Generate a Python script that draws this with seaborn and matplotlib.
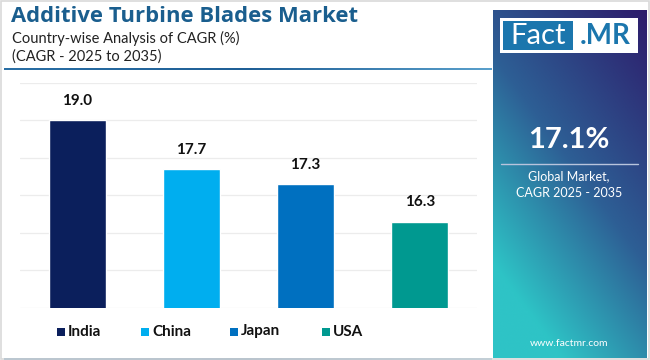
import numpy as np
import pandas as pd
import matplotlib
matplotlib.use("Agg")
import matplotlib.pyplot as plt
import seaborn as sns
from matplotlib.patches import Rectangle
from matplotlib.colors import LinearSegmentedColormap

countries = ["India", "China", "Japan", "USA"]
cagr = [19.0, 17.7, 17.3, 16.3]
bar_colors = ["#0b1f5c", "#00aeef", "#0070c0", "#009990"]
title = "Additive Turbine Blades Market"
subtitle1 = "Country-wise Analysis of CAGR (%)"
subtitle2 = "(CAGR - 2025 to 2035)"
global_value = "17.1%"
global_label = "Global Market,\nCAGR 2025 - 2035"

sns.set_theme(style="white")
plt.rcParams['font.family'] = ['Lato', 'DejaVu Sans']

W, H = 650, 360
fig = plt.figure(figsize=(6.5, 3.6), dpi=100)
fig.patch.set_facecolor("white")

def fx(px):
    return px / W

def fy(py):
    return 1 - py / H

# border
fig.patches.append(Rectangle((0.002, 0.003), 0.996, 0.994, transform=fig.transFigure,
                             fill=False, edgecolor="#d9d9d9", linewidth=1.2))

# header
fig.text(fx(11), fy(17), title, fontsize=15.8, fontweight="bold", color="#1a5e8e",
         va="center", ha="left", family=["Open Sans", "DejaVu Sans"])
fig.text(fx(12), fy(38), subtitle1, fontsize=10.5, color="#222222", va="center", ha="left")
fig.text(fx(12), fy(57), subtitle2, fontsize=10.5, color="#222222", va="center", ha="left")
# header line with gradient
line_ax = fig.add_axes([fx(4), fy(70), fx(488), 2.0 / H])
grad = np.linspace(0, 1, 256)[None, :]
lcmap = LinearSegmentedColormap.from_list("l", ["#2a6fa5", "#1f5f96", "#5aa0cc"])
line_ax.imshow(grad, aspect="auto", cmap=lcmap, extent=[0, 1, 0, 1])
line_ax.axis("off")
bline_ax = fig.add_axes([fx(4), 0.0, fx(488), 2.0 / H])
bline_ax.imshow(grad, aspect="auto", cmap=lcmap, extent=[0, 1, 0, 1])
bline_ax.axis("off")

# main bar chart
ax = fig.add_axes([fx(20), fy(308), fx(457), (308 - 83) / H])
df = pd.DataFrame({"country": countries, "cagr": cagr})
sns.barplot(data=df, x="country", y="cagr", hue="country", palette=bar_colors,
            width=0.5, ax=ax, legend=False, saturation=1)
ax.set_ylim(14, 20)
ax.set_xlim(-0.5, 3.5)
ax.set_yticks(np.arange(14, 21, 1))
ax.yaxis.grid(True, color="#ececec", linewidth=0.9)
ax.set_axisbelow(True)
ax.set_xticks([])
ax.set_yticklabels([])
ax.tick_params(left=False, bottom=False)
ax.set_xlabel("")
ax.set_ylabel("")
for s in ax.spines.values():
    s.set_visible(False)
for i, v in enumerate(cagr):
    ax.text(i, v + 0.33, f"{v:.1f}", ha="center", va="bottom", fontsize=11,
            fontweight="bold", color="#111111")

# legend
leg_x = [57, 141, 230, 322]
for x0, name, c in zip(leg_x, countries, bar_colors):
    fig.patches.append(Rectangle((fx(x0), fy(336)), fx(8), 8 / H, transform=fig.transFigure,
                                 facecolor=c, edgecolor="none"))
    fig.text(fx(x0 + 11), fy(331.5), name, fontsize=11, fontweight="bold",
             color="#111111", va="center", ha="left")

# right panel gradient
px0, py0, px1, py1 = 493, 10, 646, 358
pax = fig.add_axes([fx(px0), fy(py1), fx(px1 - px0), (py1 - py0) / H])
nx, ny = 100, 220
xs = np.linspace(0, 1, nx)[None, :]
ys = np.linspace(0, 1, ny)[:, None]
t = np.clip((1 - xs) * 0.45 + ys * 0.75, 0, 1)  # 0 at top-right, 1 at bottom-left
c_top = np.array([0x2d, 0x1c, 0x6b]) / 255
c_mid = np.array([0x2d, 0x5f, 0x95]) / 255
c_bot = np.array([0x2e, 0xc4, 0xc6]) / 255
img = np.zeros((ny, nx, 3))
for k in range(3):
    img[..., k] = np.where(t < 0.55, c_top[k] + (c_mid[k] - c_top[k]) * (t / 0.55),
                           c_mid[k] + (c_bot[k] - c_mid[k]) * ((t - 0.55) / 0.45))
pax.imshow(img, aspect="auto", extent=[0, 1, 0, 1], origin="upper")
pax.axis("off")

# logo
fig.patches.append(Rectangle((fx(500), fy(53)), fx(138), 35 / H, transform=fig.transFigure,
                             facecolor="white", edgecolor="none"))
fig.patches.append(Rectangle((fx(503), fy(50)), fx(70), 29 / H, transform=fig.transFigure,
                             facecolor="#1b76ad", edgecolor="none"))
fig.text(fx(538), fy(36), "Fact", fontsize=21, color="white", ha="center", va="center")
fig.text(fx(605), fy(36), ".MR", fontsize=20, fontweight="bold", color="#1b76ad",
         ha="center", va="center")

# global value
fig.text(fx(569), fy(140), global_value, fontsize=21, fontweight="bold", color="white",
         ha="center", va="center")
fig.lines.append(plt.Line2D([fx(501), fx(638)], [fy(164), fy(164)], transform=fig.transFigure,
                            color="#b8c4dd", linewidth=1))
fig.text(fx(569), fy(185), global_label, fontsize=9, color="white", ha="center",
         va="center", linespacing=1.5)
fig.text(fx(569), fy(343), "www.factmr.com", fontsize=7.5, color="white", ha="center",
         va="center")

fig.savefig("out.png", dpi=100, facecolor="white")
